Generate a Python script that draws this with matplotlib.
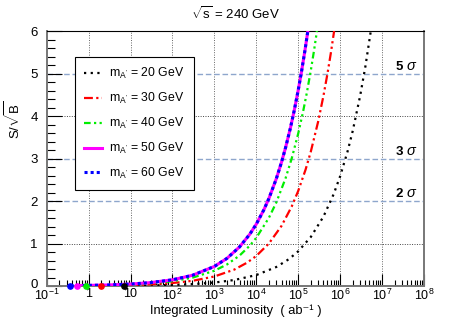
import matplotlib
matplotlib.use('Agg')
import matplotlib.pyplot as plt
import matplotlib.transforms as mtransforms
from matplotlib.ticker import FixedLocator, FixedFormatter, NullFormatter

plt.rcParams['font.family'] = ['Liberation Sans', 'DejaVu Sans']
plt.rcParams['mathtext.fontset'] = 'custom'
plt.rcParams['mathtext.rm'] = 'Liberation Sans'
plt.rcParams['mathtext.it'] = 'Liberation Sans:italic'
plt.rcParams['mathtext.bf'] = 'Liberation Sans:bold'

# values
lumi_60 = [0.37, 1, 3, 10, 30, 100, 300, 1e3, 2e3, 4e3, 7e3, 1e4, 1.5e4, 2e4, 3e4, 4e4,
           5e4, 6.5e4, 8e4, 1e5, 1.2e5, 1.45e5, 1.7e5]
sig_60 = [0.009, 0.015, 0.025, 0.046, 0.080, 0.146, 0.252, 0.46, 0.651, 0.921, 1.218, 1.456,
          1.783, 2.059, 2.522, 2.912, 3.256, 3.712, 4.118, 4.604, 5.044, 5.544, 6.0]
lumi_50 = [0.52, 1, 3, 10, 30, 100, 300, 1e3, 2e3, 4e3, 7e3, 1e4, 1.5e4, 2e4, 3e4, 4e4,
           5e4, 6.5e4, 8e4, 1e5, 1.2e5, 1.45e5, 1.7e5]
sig_50 = [0.0105, 0.015, 0.025, 0.046, 0.080, 0.146, 0.252, 0.46, 0.651, 0.921, 1.218, 1.456,
          1.783, 2.059, 2.522, 2.912, 3.256, 3.712, 4.118, 4.604, 5.044, 5.544, 6.0]
lumi_40 = [0.87, 1, 3, 10, 30, 100, 300, 1e3, 2e3, 4e3, 7e3, 1e4, 2e4, 3e4, 5e4, 7e4,
           1e5, 1.3e5, 1.6e5, 2e5, 2.4e5, 2.8e5]
sig_40 = [0.0106, 0.0113, 0.0196, 0.0359, 0.0621, 0.113, 0.196, 0.359, 0.507, 0.717, 0.949,
          1.134, 1.604, 1.964, 2.536, 3.0, 3.586, 4.089, 4.536, 5.071, 5.555, 6.0]
lumi_30 = [1.95, 3, 10, 30, 100, 300, 1e3, 3e3, 6e3, 1e4, 2e4, 4e4, 7e4, 1e5, 1.5e5,
           2e5, 3e5, 4e5, 5e5, 6e5, 7.2e5]
sig_30 = [0.0099, 0.0122, 0.0224, 0.0387, 0.0707, 0.122, 0.224, 0.387, 0.548, 0.707, 1.0,
          1.414, 1.871, 2.236, 2.738, 3.162, 3.873, 4.472, 5.0, 5.477, 6.0]
lumi_20 = [7, 10, 30, 100, 300, 1e3, 3e3, 1e4, 3e4, 6e4, 1e5, 2e5, 4e5, 7e5, 1e6,
           1.5e6, 2e6, 3e6, 4e6, 5.4e6]
sig_20 = [0.0068, 0.0082, 0.0141, 0.0258, 0.0447, 0.0816, 0.141, 0.258, 0.447, 0.632, 0.816,
          1.154, 1.632, 2.159, 2.58, 3.16, 3.65, 4.47, 5.16, 6.0]

mass_labels = ['20', '30', '40', '50', '60']
sigma_levels = [2, 3, 5]
sigma_labels = ['2', '3', '5']
xtick_vals = [1e-1, 1, 10, 1e2, 1e3, 1e4, 1e5, 1e6, 1e7, 1e8]
xtick_text = [r'$10^{-1}$', '1', '10', r'$10^{2}$', r'$10^{3}$', r'$10^{4}$',
              r'$10^{5}$', r'$10^{6}$', r'$10^{7}$', r'$10^{8}$']

fig = plt.figure(figsize=(4.71, 3.19), dpi=100)
ax = fig.add_axes([0.0991, 0.1034, 0.801, 0.7994])

ax.set_xscale('log')
ax.set_xlim(1e-1, 1e8)
ax.set_ylim(0, 6)

# grid
for xv in xtick_vals[1:-1]:
    ax.axvline(xv, color='#666666', ls=(0, (1, 1.5)), lw=0.7, zorder=1)
for yv in [1, 4]:
    ax.axhline(yv, color='#444444', ls=(0, (1, 1.5)), lw=0.7, zorder=1)
for yv in sigma_levels:
    ax.axhline(yv, color='#8ea6cc', ls=(0, (4, 2)), lw=1.0, zorder=1)

l20, = ax.plot(lumi_20, sig_20, color='black', ls=(0, (1, 2)), lw=1.6, zorder=3)
l30, = ax.plot(lumi_30, sig_30, color='red', ls=(0, (4, 1.5, 1, 1.5, 1, 1.5)), lw=1.6, zorder=3)
l40, = ax.plot(lumi_40, sig_40, color='#00ee00', ls=(0, (3, 1.5, 1, 1.5, 1, 1.5, 1, 1.5)), lw=1.6, zorder=3)
l50, = ax.plot(lumi_50, sig_50, color='magenta', ls='-', lw=2.2, zorder=4)
l60, = ax.plot(lumi_60, sig_60, color='blue', ls=(0, (1, 1)), lw=2.2, zorder=5)

for lx, c in [(lumi_20, 'black'), (lumi_30, 'red'), (lumi_40, '#00ee00'),
              (lumi_50, 'magenta'), (lumi_60, 'blue')]:
    ax.plot(lx[0], 0.0, 'o', color=c, ms=3.8, zorder=6, clip_on=False)

for lev, lab in zip(sigma_levels, sigma_labels):
    ax.text(0.935, lev + 0.02, lab, transform=ax.get_yaxis_transform(),
            fontsize=9.5, fontweight='bold', ha='center', va='bottom')
    ax.text(0.967, lev + 0.02, r'$\sigma$', transform=ax.get_yaxis_transform(),
            fontsize=10.5, ha='center', va='bottom')

# ticks
ax.xaxis.set_major_locator(FixedLocator(xtick_vals))
ax.xaxis.set_major_formatter(FixedFormatter(xtick_text))
minors = [m * 10.0 ** e for e in range(-1, 8) for m in range(2, 10)]
ax.xaxis.set_minor_locator(FixedLocator(minors))
ax.xaxis.set_minor_formatter(NullFormatter())
ax.set_yticks([0, 1, 2, 3, 4, 5, 6])
ax.set_yticks([i * 0.2 for i in range(31)], minor=True)
ax.tick_params(axis='y', which='major', direction='in', length=11, width=0.8,
               labelsize=9.5, right=False, pad=6.5)
ax.tick_params(axis='y', which='minor', direction='in', length=6, width=0.8, right=False)
ax.tick_params(axis='x', which='major', direction='in', length=9, width=0.8,
               labelsize=9, top=False, pad=1.5)
ax.tick_params(axis='x', which='minor', direction='in', length=4.5, width=0.8, top=False)

# nudge the "0" label up a little so it clears the 10^-1 label
zero_lab = ax.yaxis.get_major_ticks()[0].label1
zero_lab.set_transform(zero_lab.get_transform() +
                       mtransforms.ScaledTranslation(0, 2 / 72, fig.dpi_scale_trans))

ax.spines['top'].set_color('black')
for s in ['left', 'right', 'bottom']:
    ax.spines[s].set_color('#777777')
    ax.spines[s].set_linewidth(1.4)

ax.set_xlabel('Integrated Luminosity  ( ab\u207b\u00b9 )', fontsize=9.3)
ax.xaxis.label.set_va('center')
ax.xaxis.set_label_coords(0.502, -0.097)
ax.set_ylabel(r'S/$\sqrt{\mathregular{B}}$', fontsize=9.5)
ax.yaxis.label.set_va('center')
ax.yaxis.set_label_coords(-0.089, 0.65)
fig.text(0.5, 0.958, r'$\sqrt{\mathregular{s}}$ = 240 GeV', ha='center', va='center', fontsize=9.5)

leg = ax.legend([l20, l30, l40, l50, l60],
                [r"m$_{\mathregular{A'}}$ = " + m + " GeV" for m in mass_labels],
                loc='upper left', bbox_to_anchor=(0.075, 0.898), fontsize=8.8,
                frameon=True, fancybox=False, edgecolor='black', framealpha=1,
                handlelength=1.45, handletextpad=0.6, labelspacing=0.8,
                borderpad=0.75, borderaxespad=0)
leg.get_frame().set_linewidth(0.8)
leg.set_zorder(10)

fig.savefig('out.png', dpi=100)
